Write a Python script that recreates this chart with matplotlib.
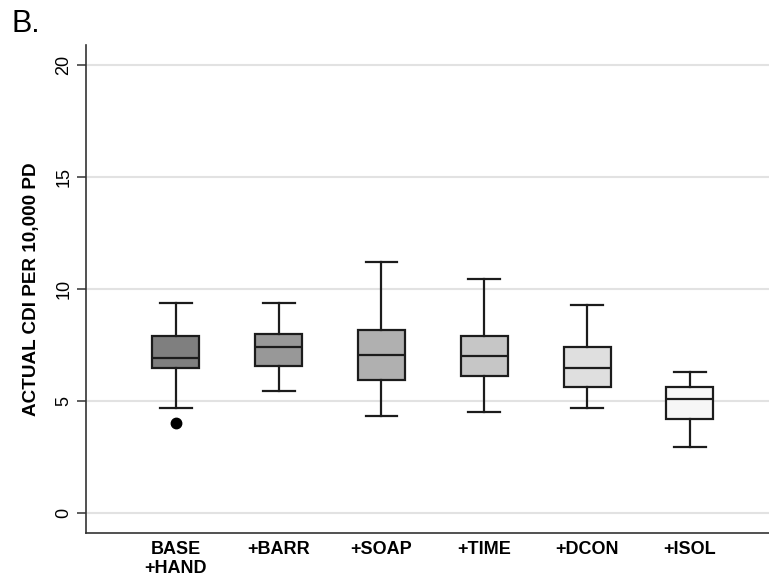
import numpy as np
import matplotlib
matplotlib.use("Agg")
import matplotlib.pyplot as plt

plt.rcParams['font.family'] = ['Liberation Sans', 'DejaVu Sans']

# box plot summary per intervention bundle (CDI per 10,000 patient-days)
labels = ['BASE\n+HAND', '+BARR', '+SOAP', '+TIME', '+DCON', '+ISOL']
whislo = [4.70, 5.44, 4.32, 4.50, 4.70, 2.92]
q1 = [6.48, 6.55, 5.92, 6.09, 5.63, 4.21]
med = [6.93, 7.40, 7.04, 7.02, 6.48, 5.06]
q3 = [7.88, 7.98, 8.15, 7.88, 7.42, 5.62]
whishi = [9.38, 9.36, 11.19, 10.42, 9.30, 6.29]
fliers = [[4.01], [], [], [], [], []]
fills = ['#7f7f7f', '#989898', '#b0b0b0', '#c6c6c6', '#dfdfdf', '#f6f6f6']

stats = []
for i in range(len(labels)):
    stats.append(dict(whislo=whislo[i], q1=q1[i], med=med[i], q3=q3[i],
                      whishi=whishi[i], fliers=fliers[i]))

fig = plt.figure(figsize=(7.69, 5.85), dpi=100)
ax = fig.add_axes([0.1114, 0.0889, 0.8886, 0.834])

edge = '#1c1c1c'
pos = np.arange(1, len(labels) + 1)
bp = ax.bxp(stats, positions=pos, widths=0.457, capwidths=0.31,
            patch_artist=True,
            boxprops=dict(edgecolor=edge, linewidth=1.6),
            medianprops=dict(color=edge, linewidth=1.6),
            whiskerprops=dict(color=edge, linewidth=1.6),
            capprops=dict(color=edge, linewidth=1.6),
            flierprops=dict(marker='o', markerfacecolor='black',
                            markeredgecolor='black', markersize=7.5))
for patch, c in zip(bp['boxes'], fills):
    patch.set_facecolor(c)

ax.set_xlim(0.122, 6.77)
ax.set_ylim(-0.9, 20.88)
ax.set_yticks([0, 5, 10, 15, 20])
ax.set_yticklabels(['0', '5', '10', '15', '20'], rotation=90, va='center',
                   fontsize=13)
ax.set_xticks(pos)
ax.set_xticklabels(labels, fontsize=13, fontweight='bold', linespacing=1.15)
ax.tick_params(axis='x', length=0, pad=6)
ax.tick_params(axis='y', length=6.5, width=1.1, color='#333333', pad=3)
ax.yaxis.grid(True, color='#e2e2e2', linewidth=1.5)
ax.set_axisbelow(True)

for s in ['top', 'right']:
    ax.spines[s].set_visible(False)
for s in ['left', 'bottom']:
    ax.spines[s].set_color('#333333')
    ax.spines[s].set_linewidth(1.2)

ax.set_ylabel('ACTUAL CDI PER 10,000 PD', fontsize=13.6, fontweight='bold')
ax.yaxis.set_label_coords(-0.067, 0.5)

fig.text(0.015, 0.985, 'B.', fontsize=22, va='top', ha='left')

fig.savefig('out.png', dpi=100)
